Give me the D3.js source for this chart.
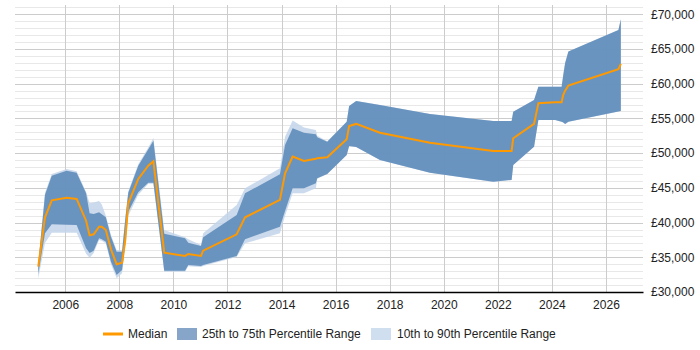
<!DOCTYPE html>
<html>
<head>
<meta charset="utf-8">
<script src="https://cdn.jsdelivr.net/npm/d3@7"></script>
<style>
  body { margin: 0; background: #fff; }
  svg { font-family: "Liberation Sans", Arial, sans-serif; }
</style>
</head>
<body>
<svg width="700" height="350"></svg>
<script>

// decimal years for each sample
var years = [2005.0, 2005.25, 2005.5, 2006.05, 2006.42, 2006.77, 2006.9, 2007.05, 2007.25, 2007.35,
  2007.5, 2007.69, 2007.9, 2008.1, 2008.22, 2008.33, 2008.7, 2009.07, 2009.26, 2009.66,
  2010.43, 2010.55, 2011.02, 2011.1, 2012.34, 2012.65, 2013.94, 2014.13, 2014.41, 2014.83,
  2015.27, 2015.32, 2015.69, 2016.41, 2016.5, 2016.76, 2017.64, 2019.49, 2021.83, 2022.51,
  2022.57, 2023.34, 2023.5, 2024.12, 2024.36, 2024.42, 2024.49, 2024.61, 2026.46, 2026.55];

var median = [33650, 40760, 43210, 43590, 43400, 40270, 38170, 38310, 39410, 39410,
  38930, 36150, 33990, 34220, 37490, 42780, 46280, 48200, 48830, 35660,
  35190, 35480, 35190, 35950, 38310, 40760, 43260, 47100, 49500, 48880,
  49200, 49260, 49410, 52000, 53920, 54210, 52950, 51510, 50320, 50320,
  52150, 54210, 57190, 57330, 57330, 58390, 59000, 59730, 62090, 62850];

var p75 = [34000, 44000, 46760, 47480, 47190, 44220, 41340, 41240, 41480, 41200,
  40760, 37970, 35810, 35810, 40500, 44310, 48200, 50580, 51800, 38400,
  37730, 37100, 36630, 37880, 41100, 44220, 46960, 51180, 53590, 52950,
  52720, 52290, 51660, 54540, 56800, 57520, 56940, 55650, 54640, 54640,
  55980, 57670, 59580, 59580, 59580, 61270, 63000, 64630, 67750, 69300];

var p25 = [32600, 38460, 39750, 39700, 39650, 36300, 35600, 35950, 37740, 37600,
  37250, 34370, 32450, 33170, 37000, 41570, 44370, 45750, 45750, 33070,
  33070, 33890, 33750, 33900, 35200, 37590, 39410, 41650, 44940, 44940,
  45660, 46380, 47000, 49740, 51040, 50900, 49020, 47190, 45890, 46140,
  48300, 50940, 54780, 54780, 54540, 54400, 54210, 54540, 56000, 56080];

var p90 = [34200, 44300, 47000, 47700, 47400, 44400, 42780, 42900, 43110, 42600,
  41000, 38200, 36000, 36000, 40700, 44500, 48400, 50800, 52200, 38930,
  37880, 37590, 36770, 38460, 42540, 44940, 47820, 52380, 54690, 53680,
  53340, 52500, 51700, 54540, 56800, 57520, 56940, 55650, 54640, 54640,
  55980, 57670, 59580, 59580, 59580, 61270, 63000, 64630, 67750, 69300];

var p10 = [31900, 37060, 38550, 38550, 38550, 35500, 34940, 35600, 37500, 37400,
  37000, 34000, 31970, 32700, 36500, 41000, 44000, 45600, 45600, 32900,
  32900, 33700, 33600, 33750, 35050, 37020, 38460, 41000, 44220, 44220,
  44940, 46300, 47000, 49740, 51040, 50900, 49020, 47190, 45890, 46140,
  48300, 50940, 54780, 54780, 54540, 54400, 54210, 54540, 56000, 56080];

var xTicks = [2006, 2008, 2010, 2012, 2014, 2016, 2018, 2020, 2022, 2024, 2026];
var yTicks = [30000, 35000, 40000, 45000, 50000, 55000, 60000, 65000, 70000];

var legendLabels = ["Median", "25th to 75th Percentile Range", "10th to 90th Percentile Range"];

var margin = {top: 5, right: 57, bottom: 58, left: 15},
    width = 700 - margin.left - margin.right,
    height = 350 - margin.top - margin.bottom;

var svg = d3.select("svg");
var g = svg.append("g")
    .attr("transform", "translate(" + margin.left + "," + margin.top + ")");

var x = d3.scaleLinear().domain([2004.14, 2027.37]).range([0, width]);
var y = d3.scaleLinear().domain([30000, 71340]).range([height, 0]);

var data = years.map(function(yr, i) {
  return {x: yr, med: median[i], lo: p25[i], hi: p75[i], lo10: p10[i], hi90: p90[i]};
});

// minor gridlines every 1000
g.append("g").selectAll("line")
    .data(d3.range(31000, 71001, 1000).filter(function(v) { return v % 5000 != 0; }))
  .enter().append("line")
    .attr("x1", 0).attr("x2", width)
    .attr("y1", function(d) { return Math.round(y(d)) + 0.5; })
    .attr("y2", function(d) { return Math.round(y(d)) + 0.5; })
    .style("stroke", "#e8e8e8");

// major gridlines
g.append("g").selectAll("line")
    .data(yTicks.slice(1))
  .enter().append("line")
    .attr("x1", 0).attr("x2", width)
    .attr("y1", function(d) { return Math.round(y(d)) + 0.5; })
    .attr("y2", function(d) { return Math.round(y(d)) + 0.5; })
    .style("stroke", "#cccccc");

g.append("g").selectAll("line")
    .data(xTicks)
  .enter().append("line")
    .attr("x1", function(d) { return Math.round(x(d)) + 0.5; })
    .attr("x2", function(d) { return Math.round(x(d)) + 0.5; })
    .attr("y1", 0).attr("y2", height)
    .style("stroke", "#cccccc");

var area10 = d3.area()
    .x(function(d) { return x(d.x); })
    .y0(function(d) { return y(d.lo10); })
    .y1(function(d) { return y(d.hi90); });

var area25 = d3.area()
    .x(function(d) { return x(d.x); })
    .y0(function(d) { return y(d.lo); })
    .y1(function(d) { return y(d.hi); });

g.append("path").datum(data)
    .attr("d", area10)
    .style("fill", "#c2d5ea")
    .style("opacity", 0.85);

g.append("path").datum(data)
    .attr("d", area25)
    .style("fill", "#5f8cba")
    .style("opacity", 0.9);

var line = d3.line()
    .x(function(d) { return x(d.x); })
    .y(function(d) { return y(d.med); });

g.append("path").datum(data)
    .attr("d", line)
    .style("fill", "none")
    .style("stroke", "#ff9900")
    .style("stroke-width", 2);

// x axis
var xAxis = g.append("g")
    .attr("transform", "translate(0," + height + ")")
    .call(d3.axisBottom(x).tickValues(xTicks).tickFormat(d3.format("d")).tickSize(0).tickPadding(8));
xAxis.select(".domain").style("stroke", "#000").style("stroke-width", 1.5);
xAxis.selectAll("text").style("font-size", "12px").style("fill", "#222").style("font-family", "Liberation Sans, Arial, sans-serif");

// y axis on right
var yAxis = g.append("g")
    .attr("transform", "translate(" + width + ",0)")
    .call(d3.axisRight(y).tickValues(yTicks).tickFormat(function(d) { return "£" + d3.format(",")(d); }).tickSize(0).tickPadding(8));
yAxis.select(".domain").remove();
yAxis.selectAll("text").style("font-size", "12px").style("fill", "#222").style("font-family", "Liberation Sans, Arial, sans-serif");

// legend
var leg = svg.append("g").attr("transform", "translate(0,334)");
leg.append("line")
    .attr("x1", 103).attr("x2", 123).attr("y1", 0).attr("y2", 0)
    .style("stroke", "#ff9900").style("stroke-width", 3);
leg.append("text").attr("x", 128).attr("y", 4).text(legendLabels[0]);
leg.append("rect").attr("x", 177).attr("y", -6).attr("width", 20).attr("height", 12).style("fill", "#87a5c8");
leg.append("text").attr("x", 202).attr("y", 4).text(legendLabels[1]);
leg.append("rect").attr("x", 371).attr("y", -6).attr("width", 20).attr("height", 12).style("fill", "#cfdff0");
leg.append("text").attr("x", 397).attr("y", 4).text(legendLabels[2]);
leg.selectAll("text").style("font-size", "12px").style("fill", "#222");

</script>
</body>
</html>
